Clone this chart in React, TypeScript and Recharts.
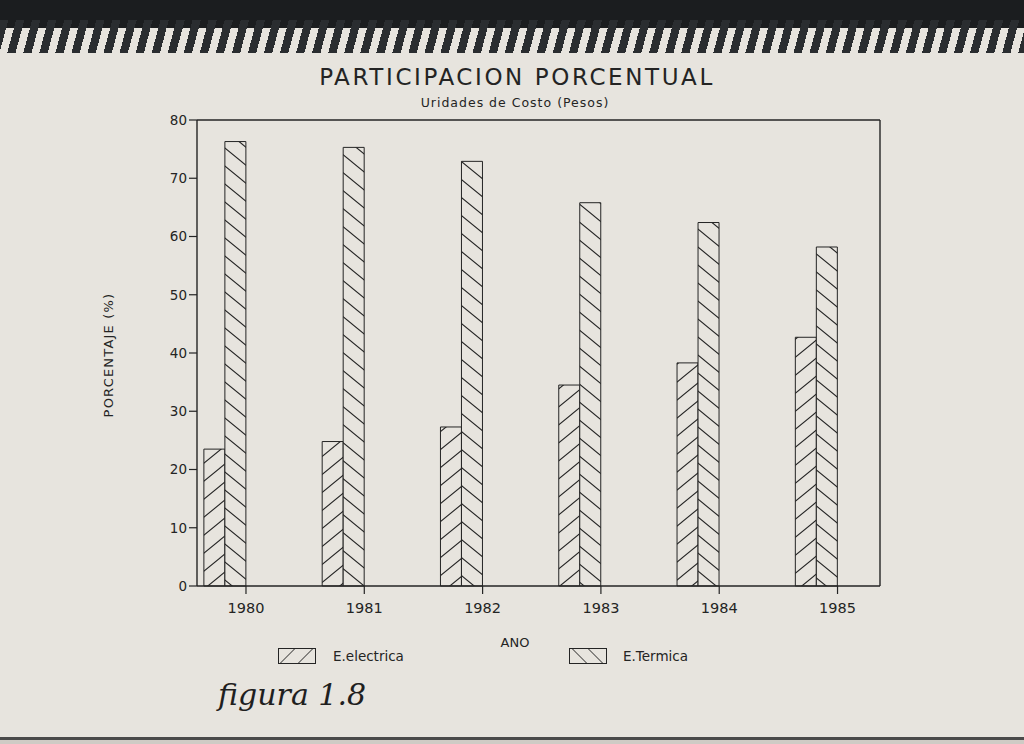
import { BarChart, Bar, XAxis, YAxis, ReferenceLine } from "recharts";

const years = [1980, 1981, 1982, 1983, 1984, 1985];
const electrica = [23.5, 24.8, 27.3, 34.5, 38.3, 42.7];
const termica = [76.3, 75.3, 72.9, 65.8, 62.4, 58.2];
const yTicks = [0, 10, 20, 30, 40, 50, 60, 70, 80];

const rows = years.map((year, i) => ({
  year,
  electrica: electrica[i],
  termica: termica[i],
}));

const PAPER = "#e7e4de";
const INK = "#242424";
const FONT = "'DejaVu Sans', sans-serif";

// bars sit just left of each year tick, so the bars and the ticks use two axes
const BAR_DOMAIN: [number, number] = [1979.763, 1985.537];
const TICK_DOMAIN: [number, number] = [1979.586, 1985.359];

function Hatch({ id, up }: { id: string; up: boolean }) {
  const w = 22;
  const h = 18;
  const d = up
    ? `M-1,${h + 0.8} L${w + 1},-0.8 M-1,0.8 L1,-0.8 M${w - 1},${h + 0.8} L${w + 1},${h - 0.8}`
    : `M-1,-0.8 L${w + 1},${h + 0.8} M-1,${h - 0.8} L1,${h + 0.8} M${w - 1},-0.8 L${w + 1},0.8`;
  return (
    <pattern id={id} patternUnits="userSpaceOnUse" width={w} height={h}>
      <rect width={w} height={h} fill={PAPER} />
      <path d={d} stroke={INK} strokeWidth={1.1} fill="none" />
    </pattern>
  );
}

function Swatch({ up }: { up: boolean }) {
  return (
    <svg width={38} height={16} style={{ display: "block" }}>
      <rect x={0.5} y={0.5} width={37} height={15} fill="none" stroke={INK} />
      {up ? (
        <path d="M2,15.5 L17,0.5 M20,15.5 L35,0.5" stroke={INK} fill="none" />
      ) : (
        <path d="M3,0.5 L18,15.5 M19,0.5 L34,15.5" stroke={INK} fill="none" />
      )}
    </svg>
  );
}

const text = (extra: React.CSSProperties): React.CSSProperties => ({
  position: "absolute",
  fontFamily: FONT,
  color: INK,
  whiteSpace: "nowrap",
  lineHeight: 1,
  ...extra,
});

export default function App() {
  return (
    <div
      style={{
        position: "absolute",
        left: 0,
        top: 0,
        width: 1024,
        height: 744,
        background: PAPER,
        overflow: "hidden",
      }}
    >
      {/* notebook spiral */}
      <div style={{ position: "absolute", left: 0, top: 0, width: 1024, height: 28, background: "#1b1d1f" }} />
      <div
        style={{
          position: "absolute",
          left: 0,
          top: 20,
          width: 1024,
          height: 33,
          background:
            "repeating-linear-gradient(105deg, #2a2d30 0px, #2a2d30 8px, transparent 8px, transparent 15.5px)",
        }}
      />
      {/* bottom page edge */}
      <div style={{ position: "absolute", left: 0, top: 737, width: 1024, height: 3, background: "#4a4a4a" }} />
      <div style={{ position: "absolute", left: 0, top: 740, width: 1024, height: 4, background: "#cfcbc5" }} />

      <div style={text({ left: 517, top: 66, transform: "translateX(-50%)", fontSize: 23, letterSpacing: 2.6 })}>
        PARTICIPACION PORCENTUAL
      </div>
      <div style={text({ left: 515, top: 97, transform: "translateX(-50%)", fontSize: 12.5, letterSpacing: 1 })}>
        Uridades de Costo (Pesos)
      </div>
      <div
        style={text({
          left: 108,
          top: 355,
          transform: "translate(-50%, -50%) rotate(-90deg)",
          fontSize: 13,
          letterSpacing: 1.2,
        })}
      >
        PORCENTAJE (%)
      </div>
      <div style={text({ left: 515, top: 636, transform: "translateX(-50%)", fontSize: 13 })}>ANO</div>

      {/* legend */}
      <div style={{ position: "absolute", left: 278, top: 648 }}>
        <Swatch up />
      </div>
      <div style={text({ left: 333, top: 650, fontSize: 13.5 })}>E.electrica</div>
      <div style={{ position: "absolute", left: 569, top: 648 }}>
        <Swatch up={false} />
      </div>
      <div style={text({ left: 623, top: 650, fontSize: 13.5 })}>E.Termica</div>

      <div
        style={text({
          left: 218,
          top: 680,
          fontSize: 30,
          fontFamily: "'DejaVu Serif', serif",
          fontStyle: "italic",
          color: "#1f1f1f",
        })}
      >
        figura 1.8
      </div>

      <div style={{ position: "absolute", left: 0, top: 0 }}>
        <BarChart
          width={1024}
          height={744}
          data={rows}
          barGap={0}
          margin={{ top: 120, right: 144, bottom: 128, left: 137 }}
        >
          <defs>
            <Hatch id="hatchUp" up />
            <Hatch id="hatchDown" up={false} />
          </defs>
          <XAxis
            xAxisId="bars"
            dataKey="year"
            type="number"
            domain={BAR_DOMAIN}
            ticks={years}
            allowDataOverflow
            height={0}
            hide
          />
          <XAxis
            xAxisId="ticks"
            dataKey="year"
            type="number"
            domain={TICK_DOMAIN}
            ticks={years}
            allowDataOverflow
            height={30}
            tickSize={8}
            tickMargin={9}
            axisLine={{ stroke: INK, strokeWidth: 1.4 }}
            tickLine={{ stroke: INK, strokeWidth: 1.2 }}
            tick={{ fill: INK, fontSize: 14.5, fontFamily: FONT }}
          />
          <YAxis
            domain={[0, 80]}
            ticks={yTicks}
            interval={0}
            width={60}
            tickSize={8}
            axisLine={{ stroke: INK, strokeWidth: 1.4 }}
            tickLine={{ stroke: INK, strokeWidth: 1.2 }}
            tick={{ fill: INK, fontSize: 13.5, fontFamily: FONT }}
          />
          <ReferenceLine xAxisId="bars" y={80} stroke={INK} strokeWidth={1.4} ifOverflow="visible" />
          <ReferenceLine xAxisId="bars" x={BAR_DOMAIN[1]} stroke={INK} strokeWidth={1.4} ifOverflow="visible" />
          <Bar
            xAxisId="bars"
            dataKey="electrica"
            fill="url(#hatchUp)"
            stroke={INK}
            strokeWidth={1}
            barSize={21}
            isAnimationActive={false}
          />
          <Bar
            xAxisId="bars"
            dataKey="termica"
            fill="url(#hatchDown)"
            stroke={INK}
            strokeWidth={1}
            barSize={21}
            isAnimationActive={false}
          />
        </BarChart>
      </div>
    </div>
  );
}
